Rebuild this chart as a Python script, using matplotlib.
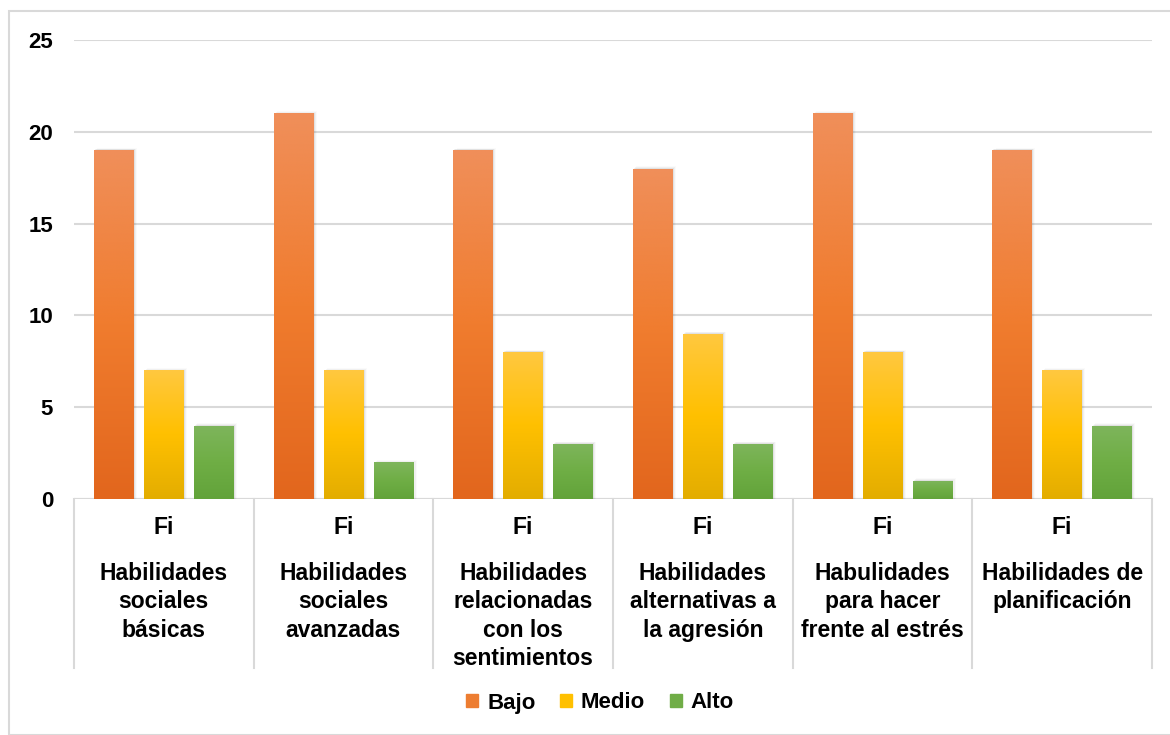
import numpy as np
import matplotlib.pyplot as plt
from matplotlib.colors import LinearSegmentedColormap
from matplotlib.patches import Rectangle

# Datos
categorias = ['Habilidades\nsociales\nbásicas',
              'Habilidades\nsociales\navanzadas',
              'Habilidades\nrelacionadas\ncon los\nsentimientos',
              'Habilidades\nalternativas a\nla agresión',
              'Habulidades\npara hacer\nfrente al estrés',
              'Habilidades de\nplanificación']
subetiqueta = 'Fi'
series = ['Bajo', 'Medio', 'Alto']
bajo = [19, 21, 19, 18, 21, 19]
medio = [7, 7, 8, 9, 8, 7]
alto = [4, 2, 3, 3, 1, 4]
y_ticks = [0, 5, 10, 15, 20, 25]

# Degradados tipo Excel (arriba, medio, abajo)
degradados = {
    'Bajo': ['#F08F5A', '#F07C2E', '#E2661D'],
    'Medio': ['#FFC840', '#FFC000', '#E3AD00'],
    'Alto': ['#7EB55C', '#6FAE45', '#62A33A'],
}
color_leyenda = {'Bajo': '#ED7D31', 'Medio': '#FFC000', 'Alto': '#70AD47'}

plt.rcParams['font.family'] = ['Liberation Sans', 'DejaVu Sans']
plt.rcParams['font.weight'] = 'bold'

fig = plt.figure(figsize=(11.7, 7.35), dpi=100)
ax = fig.add_axes([74 / 1170, 1 - 499 / 735, (1152 - 74) / 1170, (499 - 40) / 735])

# Borde exterior del gráfico
fig.patches.append(Rectangle((9 / 1170, 0), 1.2, 1 - 11 / 735, transform=fig.transFigure,
                             fill=False, edgecolor='#D9D9D9', linewidth=1.5))

n = len(categorias)
x = np.arange(n)
ancho = 0.222
desplaz = [-0.278, 0.0, 0.278]
valores = {'Bajo': bajo, 'Medio': medio, 'Alto': alto}

grad = np.linspace(1, 0, 256).reshape(-1, 1)
for serie, d in zip(series, desplaz):
    cmap = LinearSegmentedColormap.from_list(serie, degradados[serie][::-1])
    barras = ax.bar(x + d, valores[serie], width=ancho, color='none', zorder=3,
                    label=serie)
    for b in barras:
        x0, y0 = b.get_x(), b.get_y()
        w, h = b.get_width(), b.get_height()
        # sombra suave
        for k, a in enumerate([0.06, 0.04, 0.02]):
            off = 0.006 * (k + 1)
            ax.add_patch(Rectangle((x0 + off, y0), w, h + 0.04 * (k + 1),
                                   facecolor='black', alpha=a, linewidth=0, zorder=2))
        im = ax.imshow(grad, cmap=cmap, aspect='auto', extent=[x0, x0 + w, y0, y0 + h],
                       zorder=3, interpolation='bicubic')
        im.set_clip_path(b)

ax.set_xlim(-0.5, n - 0.5)
ax.set_ylim(0, 25)

ax.set_yticks(y_ticks)
ax.set_yticklabels([str(v) for v in y_ticks], fontsize=16, fontweight='bold')
ax.tick_params(axis='y', length=0, pad=15)
ax.grid(axis='y', color='#D9D9D9', linewidth=1.5, zorder=0)
ax.set_xticks([])
for s in ax.spines.values():
    s.set_visible(False)

# Eje de categorías con separadores
ax.axhline(0, color='#D9D9D9', linewidth=1.5, zorder=1)
escala = 25 / (499 - 40)
sep_bottom = -(668 - 499) * escala
for i in range(n + 1):
    ax.plot([i - 0.5, i - 0.5], [0, sep_bottom], color='#D9D9D9', linewidth=1.5,
            clip_on=False, zorder=1)
y_fi = -(527 - 499) * escala
y_cat = -(562 - 499) * escala
for i, cat in enumerate(categorias):
    ax.text(i, y_fi, subetiqueta, ha='center', va='center', fontsize=16.5,
            fontweight='bold')
    ax.text(i, y_cat, cat, ha='center', va='top', fontsize=16.5, fontweight='bold',
            linespacing=1.3)

# Leyenda
handles = [Rectangle((0, 0), 1, 1, color=color_leyenda[s]) for s in series]
fig.legend(handles, series, loc='center', bbox_to_anchor=(600 / 1170, 1 - 703 / 735),
           ncol=3, frameon=False, fontsize=16, handlelength=0.55, handleheight=0.55,
           handletextpad=0.4, columnspacing=1.1)

plt.savefig('out.png', dpi=100)
